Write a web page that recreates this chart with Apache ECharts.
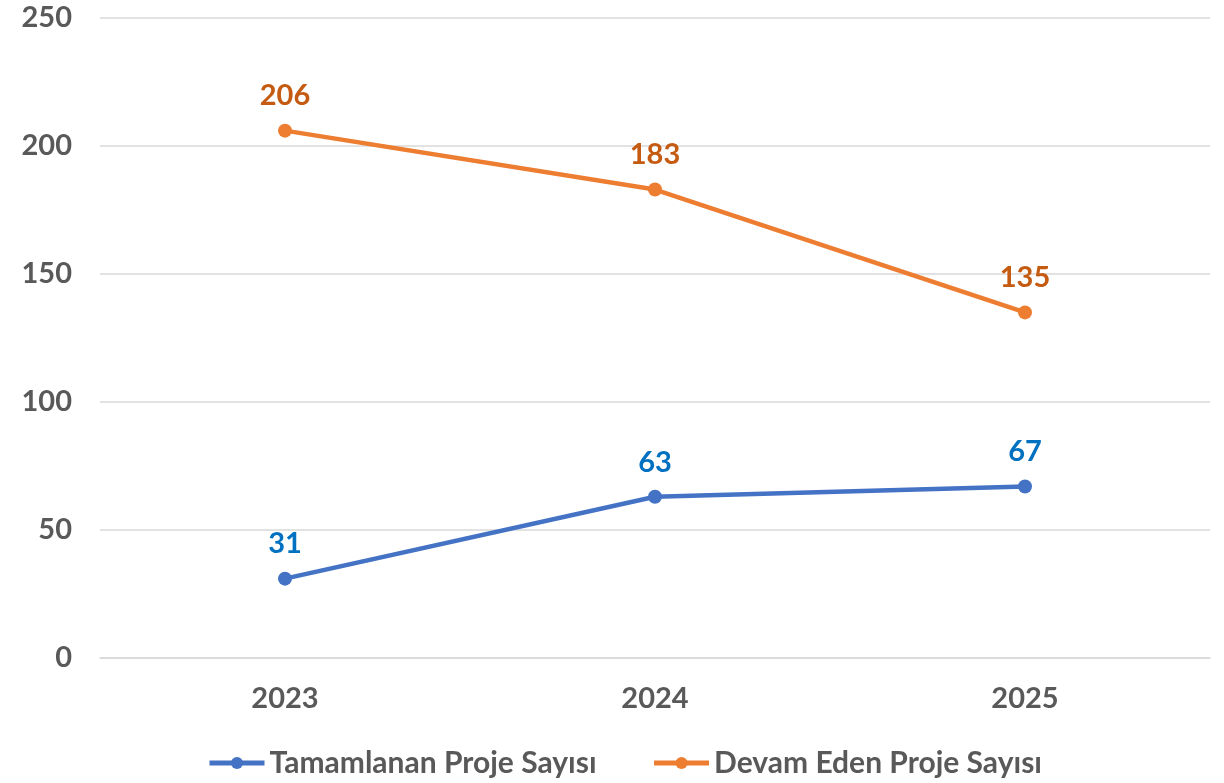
<!DOCTYPE html>
<html><head><meta charset="utf-8">
<script src="https://cdn.jsdelivr.net/npm/echarts@6/dist/echarts.min.js"></script>
<style>html,body{margin:0;padding:0;background:#fff}#c{width:1224px;height:783px}</style>
</head><body><div id="c"></div>
<script>
const categories = ['2023', '2024', '2025'];
const completed = [31, 63, 67];
const ongoing = [206, 183, 135];
const seriesNames = ['Tamamlanan Proje Sayısı', 'Devam Eden Proje Sayısı'];
const FONT = 'Lato';
const chart = echarts.init(document.getElementById('c'), null, {renderer: 'canvas'});
function lineSeries(name, data, color, labelColor) {
  return {
    name, type: 'line', data,
    symbol: 'circle', symbolSize: 14,
    lineStyle: {color, width: 4.5},
    itemStyle: {color},
    label: {show: true, position: 'top', distance: 13, color: labelColor,
      fontFamily: FONT, fontWeight: 'bold', fontSize: 29},
    emphasis: {disabled: true}, animation: false
  };
}
chart.setOption({
  animation: false,
  grid: {left: 100, right: 14, top: 18, bottom: 125},
  legend: {
    bottom: 0, left: 202, itemWidth: 55, itemHeight: 15, itemGap: 55,
    lineStyle: {width: 5},
    textStyle: {color: '#595959', fontFamily: FONT, fontWeight: 'bold', fontSize: 30},
    data: seriesNames
  },
  xAxis: {
    type: 'category', data: categories, boundaryGap: true,
    axisLine: {lineStyle: {color: '#d9d9d9', width: 1.5}},
    axisTick: {show: false},
    axisLabel: {color: '#595959', fontFamily: FONT, fontWeight: 'bold', fontSize: 29, margin: 26}
  },
  yAxis: {
    type: 'value', min: 0, max: 250, interval: 50,
    axisLine: {show: false}, axisTick: {show: false},
    splitLine: {lineStyle: {color: '#d9d9d9', width: 1.5}},
    axisLabel: {color: '#595959', fontFamily: FONT, fontWeight: 'bold', fontSize: 29, margin: 28}
  },
  series: [
    lineSeries(seriesNames[0], completed, '#4472C4', '#0070C0'),
    lineSeries(seriesNames[1], ongoing, '#ED7D31', '#C55A11')
  ]
});
</script></body></html>
